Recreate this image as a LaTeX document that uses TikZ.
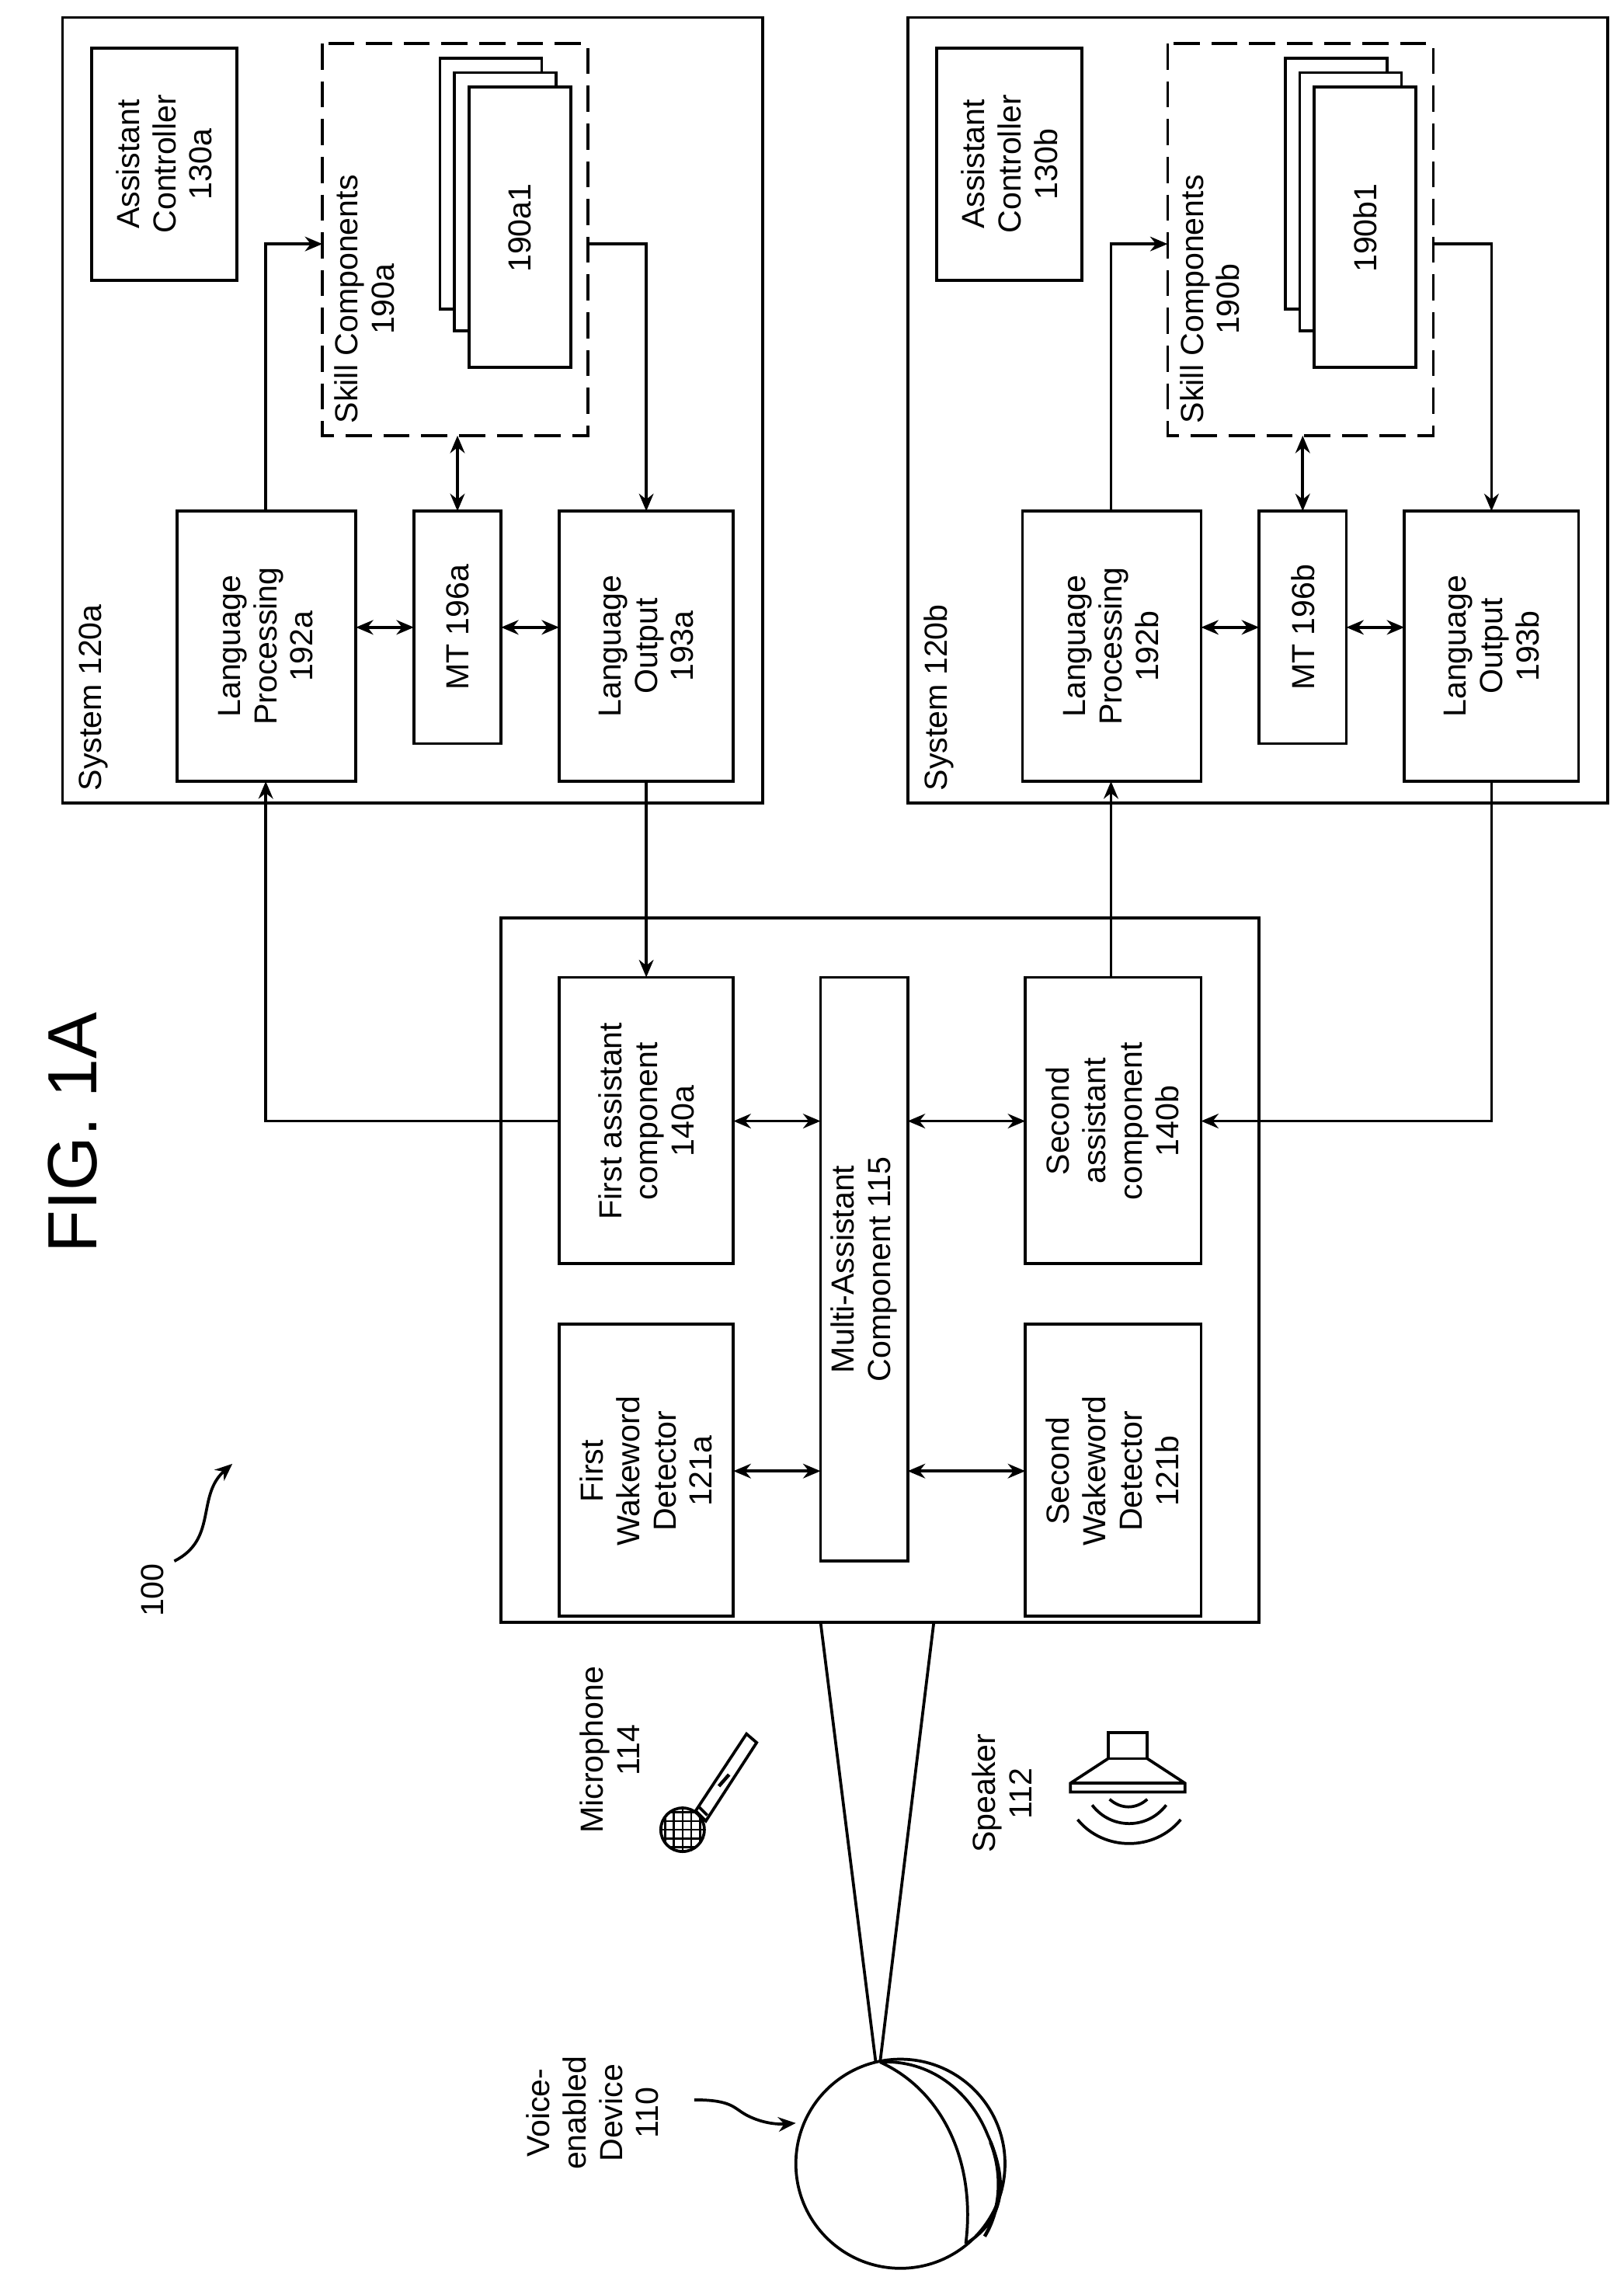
\documentclass[tikz,border=0pt]{standalone}
\usepackage{fontspec}
\setmainfont{Liberation Sans}
\usetikzlibrary{arrows.meta}
\begin{document}
\begin{tikzpicture}[x=0.5pt,y=-0.5pt,
 bx/.style={draw,line width=1pt},
 t/.style={rotate=90,align=center,font=\fontsize{11}{12.5}\selectfont,inner sep=0},
 ar/.style={line width=1pt,-{Stealth[length=6pt,width=5pt]}},
 dar/.style={line width=1pt,{Stealth[length=6pt,width=5pt]}-{Stealth[length=6pt,width=5pt]}}]
\useasboundingbox (0,0) rectangle (1118,1568);
\foreach \o/\s in {0/a,582/b}{
\begin{scope}[xshift=\o*0.5pt]
\draw[bx] (43,12) rectangle (525,553);
\node[t,anchor=south west] at (75,545) {System 120\s};
\draw[bx] (63,33) rectangle (163,193);
\node[t] at (113,113) {Assistant\\Controller\\130\s};
\draw[line width=1pt,dash pattern=on 9pt off 4pt] (222,30) rectangle (405,300);
\node[t,anchor=south west] at (272,292) {Skill Components\\190\s};
\draw[bx,fill=white] (303,40) rectangle (373,213);
\draw[bx,fill=white] (313,50) rectangle (383,228);
\draw[bx,fill=white] (323,60) rectangle (393,253);
\node[t] at (358,157) {190\s1};
\draw[bx] (122,352) rectangle (245,538); \node[t] at (183,445) {Language\\Processing\\192\s};
\draw[bx] (285,352) rectangle (345,512); \node[t] at (315,432) {MT 196\s};
\draw[bx] (385,352) rectangle (505,538); \node[t] at (445,445) {Language\\Output\\193\s};
\draw[ar] (183,352) -- (183,168) -- (222,168);
\draw[ar] (405,168) -- (445,168) -- (445,352);
\draw[dar] (315,300) -- (315,352);
\draw[dar] (245,432) -- (285,432);
\draw[dar] (345,432) -- (385,432);
\end{scope}}
\draw[bx] (345,632) rectangle (867,1117);
\draw[bx] (385,673) rectangle (505,870); \node[t] at (445,772) {First assistant\\component\\140a};
\draw[bx] (565,673) rectangle (625,1075); \node[t] at (595,874) {Multi-Assistant\\Component 115};
\draw[bx] (706,673) rectangle (827,870); \node[t] at (766,772) {Second\\assistant\\component\\140b};
\draw[bx] (385,912) rectangle (505,1113); \node[t] at (445,1013) {First\\Wakeword\\Detector\\121a};
\draw[bx] (706,912) rectangle (827,1113); \node[t] at (766,1013) {Second\\Wakeword\\Detector\\121b};
\draw[dar] (505,772) -- (565,772); \draw[dar] (625,772) -- (706,772);
\draw[dar] (505,1013) -- (565,1013); \draw[dar] (625,1013) -- (706,1013);
\draw[ar] (445,538) -- (445,673);
\draw[ar] (385,772) -- (183,772) -- (183,538);
\draw[ar] (765,673) -- (765,538);
\draw[ar] (1027,538) -- (1027,772) -- (827,772);
% callout and device
\draw[line width=1pt] (565,1117) -- (603,1420);
\draw[line width=1pt] (643,1117) -- (606,1420);
\draw[line width=1pt] (606,1420) .. controls (640,1418) and (668,1440) .. (680,1470) .. controls (696,1505) and (690,1530) .. (665,1545);
\draw[line width=1.2pt] (682,1475) .. controls (690,1495) and (690,1520) .. (678,1540);
\draw[line width=1pt] (620,1490) circle[radius=72];
\draw[line width=1pt] (606,1420) .. controls (650,1440) and (672,1490) .. (665,1545);
\node[t] at (408,1455) {Voice-\\enabled\\Device\\110};
\draw[ar] (478,1446) .. controls (505,1446) and (505,1452) .. (515,1457) .. controls (525,1462) and (535,1463) .. (548,1462);
% labels
\node[t,font=\fontsize{24}{26}\selectfont] at (50,780) {FIG. 1A};
\node[t] at (105,1095) {100};
\draw[ar] (120,1075) .. controls (150,1060) and (135,1030) .. (160,1008);
\node[t] at (420,1205) {Microphone\\114};
\node[t] at (690,1235) {Speaker\\112};
% microphone
\draw[line width=1pt,fill=white] (479,1247) -- (514,1194) -- (521,1200) -- (486,1254) -- cycle;
\draw[line width=1.2pt] (495,1230) -- (502,1222);
\draw[line width=1pt] (481,1244) -- (487,1250);
\begin{scope}
\clip (470,1260) circle[radius=15];
\foreach \d in {-12,-6,0,6,12}{\draw[line width=0.7pt] (455,1260+\d) -- (485,1260+\d); \draw[line width=0.7pt] (470+\d,1245) -- (470+\d,1275);}
\end{scope}
\draw[line width=1pt] (470,1260) circle[radius=15];
% speaker
\draw[line width=1pt] (763,1193) rectangle (790,1211);
\draw[line width=1pt] (763,1211) -- (737,1228) -- (737,1234) -- (816,1234) -- (816,1228) -- (790,1211);
\draw[line width=1pt] (737,1228) -- (816,1228);
\draw[line width=1pt] (764,1239) .. controls (772,1246) and (782,1246) .. (790,1239);
\draw[line width=1pt] (752,1243) .. controls (765,1260) and (790,1260) .. (803,1243);
\draw[line width=1pt] (742,1253) .. controls (760,1275) and (795,1275) .. (813,1253);
\end{tikzpicture}
\end{document}
